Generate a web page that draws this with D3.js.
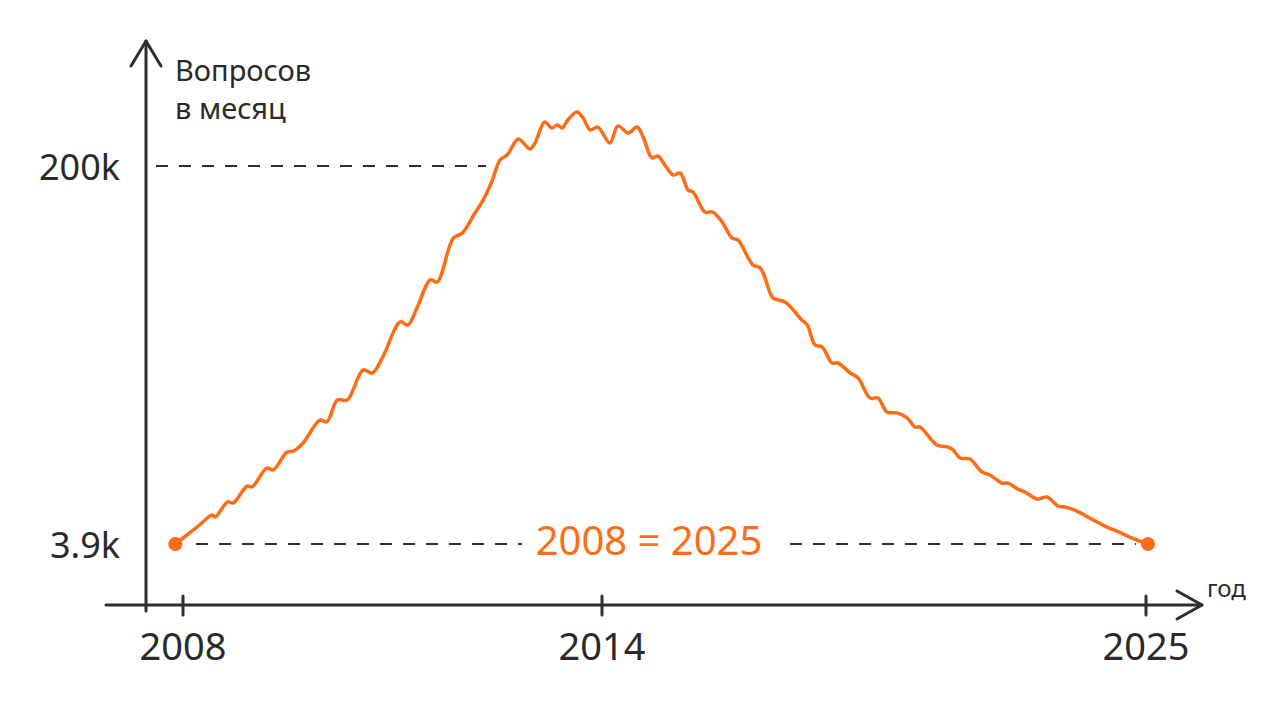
<!DOCTYPE html>
<html>
<head>
<meta charset="utf-8">
<script src="https://cdn.jsdelivr.net/npm/d3@7"></script>
<style>
    body { margin: 0; background: #fff; }
    text { font-family: "Noto Sans", "DejaVu Sans", sans-serif; fill: #2a2a2a; }
</style>
</head>
<body>
<div id="chart"></div>
<script>
// questions per month (thousands)
const years = [
    2007.89, 2008.2, 2008.42, 2008.46, 2008.64, 2008.72, 2008.92, 2008.99, 2009.2, 2009.29,
    2009.49, 2009.58, 2009.72, 2009.96, 2010.06, 2010.21, 2010.35, 2010.58, 2010.71, 2010.86,
    2011.11, 2011.22, 2011.35, 2011.54, 2011.64, 2011.87, 2012.0, 2012.18, 2012.3, 2012.43,
    2012.54, 2012.64, 2012.8, 2012.9, 2012.97, 2013.04, 2013.18, 2013.28, 2013.36, 2013.43,
    2013.51, 2013.64, 2013.73, 2013.83, 2013.94, 2014.16, 2014.32, 2014.53, 2014.71, 2014.83,
    2015.01, 2015.13, 2015.27, 2015.44, 2015.58, 2015.74, 2015.84, 2016.08, 2016.24, 2016.43,
    2016.63, 2016.75, 2017.05, 2017.2, 2017.4, 2017.46, 2017.7, 2017.9, 2018.04, 2018.15,
    2018.31, 2018.45, 2018.65, 2018.77, 2019.02, 2019.18, 2019.42, 2019.58, 2019.76, 2019.97,
    2020.17, 2020.33, 2020.43, 2020.77, 2021.0, 2021.1, 2021.24, 2021.44, 2021.68, 2021.84,
    2022.09, 2022.21, 2022.41, 2022.55, 2022.8, 2023.0, 2023.22, 2023.36, 2023.56, 2023.93,
    2024.21, 2024.41, 2024.67, 2025.04
];
const questionsK = [
    3.9, 12.7, 18.9, 17.9, 25.7, 25.2, 34.0, 33.5, 43.3, 42.3,
    51.6, 52.1, 56.3, 68.2, 67.2, 78.6, 78.6, 94.2, 92.6, 100.9,
    119.1, 117.5, 126.3, 140.9, 139.8, 162.6, 165.2, 175.6, 182.4, 192.7,
    203.1, 205.7, 214.0, 210.9, 208.8, 211.9, 222.8, 219.7, 221.3, 219.7,
    223.9, 228.0, 224.9, 218.7, 220.2, 211.9, 220.8, 217.1, 220.2, 215.1,
    204.2, 205.2, 200.5, 195.3, 196.3, 187.6, 186.5, 176.1, 176.1, 170.9,
    162.6, 161.6, 148.7, 147.1, 134.1, 131.5, 129.4, 124.3, 120.1, 117.5,
    107.1, 106.1, 97.8, 97.8, 92.6, 90.0, 79.6, 79.6, 72.4, 71.9,
    69.3, 64.6, 64.6, 55.3, 54.2, 52.7, 48.5, 48.0, 41.3, 39.7,
    35.5, 35.5, 32.4, 30.9, 27.2, 28.3, 23.6, 23.1, 21.5, 16.4,
    12.7, 10.6, 7.5, 3.9
];
const tickYears = [2008, 2014, 2025];
const yTicks = [3.9, 200];
const yTickLabels = ["3.9k", "200k"];

const width = 1280,
    height = 720;
const orange = "#ff6c17",
    ink = "#2e2e2e";

const data = years.map((d, i) => ({ year: d, value: questionsK[i] }));

// the sketch is not to scale: 2008-2014 is drawn wider than 2014-2025
const x = d3.scaleLinear().domain(tickYears).range([183, 602, 1146]);
const y = d3.scaleLinear().domain(yTicks).range([544, 166]);

const svg = d3
    .select("#chart")
    .append("svg")
    .attr("width", width)
    .attr("height", height);

// dashed guide lines
const dash = svg.append("g")
    .attr("stroke", ink)
    .attr("stroke-width", 2.2)
    .attr("stroke-dasharray", "12 11");
dash.append("line")
    .attr("x1", 156).attr("x2", 486)
    .attr("y1", y(200)).attr("y2", y(200));
dash.append("line")
    .attr("x1", 196).attr("x2", 522)
    .attr("y1", y(3.9)).attr("y2", y(3.9));
dash.append("line")
    .attr("x1", 790).attr("x2", 1136)
    .attr("y1", y(3.9)).attr("y2", y(3.9));

// axes
const axes = svg.append("g")
    .attr("stroke", ink)
    .attr("stroke-width", 3)
    .attr("fill", "none")
    .attr("stroke-linecap", "round")
    .attr("stroke-linejoin", "round");
axes.append("line").attr("x1", 146).attr("x2", 146).attr("y1", 41).attr("y2", 611);
axes.append("polyline").attr("points", "131,66 146,41 161,66");
axes.append("line").attr("x1", 106).attr("x2", 1202).attr("y1", 605).attr("y2", 605);
axes.append("polyline").attr("points", "1177,591 1202,605 1177,619");

axes.selectAll("line.tick")
    .data(tickYears)
    .join("line")
    .attr("class", "tick")
    .attr("x1", (d) => x(d))
    .attr("x2", (d) => x(d))
    .attr("y1", 596)
    .attr("y2", 615);

svg.append("g")
    .selectAll("text")
    .data(tickYears)
    .join("text")
    .attr("x", (d) => x(d))
    .attr("y", 645)
    .attr("text-anchor", "middle")
    .attr("dominant-baseline", "central")
    .attr("font-size", 38)
    .text((d) => d);

svg.append("g")
    .selectAll("text")
    .data(yTicks)
    .join("text")
    .attr("x", 120)
    .attr("y", (d) => y(d))
    .attr("text-anchor", "end")
    .attr("dominant-baseline", "central")
    .attr("font-size", 36)
    .text((d, i) => yTickLabels[i]);

// axis titles
svg.append("text").attr("x", 175).attr("y", 81).attr("font-size", 29).text("Вопросов");
svg.append("text").attr("x", 175).attr("y", 119).attr("font-size", 29).text("в месяц");
svg.append("text").attr("x", 1207).attr("y", 597).attr("font-size", 24).text("год");

// the curve
const line = d3.line()
    .x((d) => x(d.year))
    .y((d) => y(d.value))
    .curve(d3.curveCatmullRom.alpha(0.5));

svg.append("path")
    .datum(data)
    .attr("fill", "none")
    .attr("stroke", orange)
    .attr("stroke-width", 3.5)
    .attr("stroke-linejoin", "round")
    .attr("d", line);

svg.append("g")
    .selectAll("circle")
    .data([data[0], data[data.length - 1]])
    .join("circle")
    .attr("cx", (d) => x(d.year))
    .attr("cy", (d) => y(d.value))
    .attr("r", 7)
    .attr("fill", orange);

svg.append("text")
    .attr("x", 649)
    .attr("y", 539)
    .attr("text-anchor", "middle")
    .attr("dominant-baseline", "central")
    .attr("font-size", 40)
    .style("fill", orange)
    .text("2008 = 2025");
</script>
</body>
</html>
